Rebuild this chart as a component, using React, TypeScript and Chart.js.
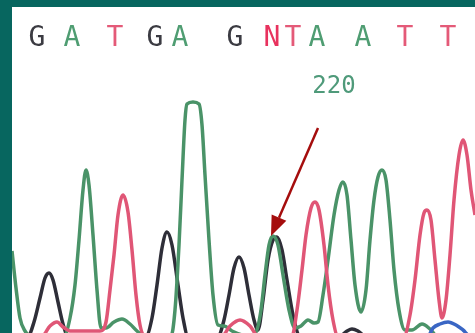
import React, { useEffect, useRef } from "react";
import { Chart, registerables } from "chart.js";

Chart.register(...registerables);

// Base calls along the top
const baseCalls = ["G", "A", "T", "G", "A", "G", "N", "T", "A", "A", "T", "T"];
const baseScans = [37, 72, 115, 155, 180, 235, 272, 293, 317, 363, 405, 448];

// Position label
const positionLabel = "220";
const positionScan = 334;

// Arrow (scan, signal) from label to the ambiguous peak
const arrowFrom = [318, 205];
const arrowTo = [271, 97];

// Trace A (green)
const aScan = [12, 16, 20, 25, 32, 64, 70, 75, 79, 83, 86, 89, 93, 97, 101, 106, 114, 122, 130, 137, 144, 171, 175, 179, 182, 185, 187, 193, 199, 202, 205, 209, 213, 218, 224, 232, 248, 256, 261, 265, 269, 273, 278, 283, 289, 295, 301, 308, 314, 318, 323, 328, 334, 339, 343, 347, 351, 355, 361, 366, 370, 374, 378, 382, 386, 390, 394, 399, 405, 412, 422, 430, 437, 475];
const aSignal = [82, 45, 15, 2, -3, -3, 15, 48, 93, 143, 163, 148, 98, 43, 5, 5, 11, 14, 9, 2, -3, -3, 23, 88, 153, 213, 229, 231, 229, 208, 158, 93, 38, 8, 7, 2, -3, 1, 23, 58, 88, 97, 88, 58, 23, 5, 7, 13, 10, 11, 38, 73, 118, 143, 151, 138, 93, 48, 21, 43, 93, 133, 156, 163, 153, 113, 63, 23, 3, 3, 9, 4, -3, -3];

// Trace G (black)
const gScan = [12, 20, 28, 34, 40, 45, 49, 53, 58, 63, 68, 146, 152, 157, 162, 167, 172, 178, 183, 188, 218, 224, 229, 234, 239, 244, 249, 254, 258, 263, 268, 273, 277, 282, 287, 293, 300, 340, 347, 352, 358, 365, 475];
const gSignal = [-3, -3, -3, 11, 35, 55, 60, 53, 31, 9, -3, -3, 15, 48, 85, 101, 88, 48, 15, -3, -3, 13, 38, 65, 76, 65, 38, 13, 3, 33, 73, 93, 96, 83, 53, 18, -3, -3, 2, 4, 2, -3, -3];

// Trace T (red)
const tScan = [12, 42, 50, 57, 63, 70, 100, 106, 110, 114, 118, 123, 128, 132, 136, 140, 145, 222, 230, 240, 250, 258, 292, 297, 302, 306, 311, 315, 319, 324, 328, 333, 338, 404, 410, 415, 420, 424, 427, 431, 435, 439, 442, 446, 450, 454, 459, 463, 467, 471, 475];
const tSignal = [-3, -3, 7, 11, 6, 2, 2, 11, 43, 78, 118, 138, 121, 83, 38, 8, -3, -3, 7, 13, 7, -3, -3, 23, 63, 98, 125, 131, 123, 88, 48, 13, -3, -3, 18, 53, 98, 120, 123, 113, 73, 33, 15, 33, 78, 133, 178, 193, 178, 143, 118];

// Trace C (blue)
const cScan = [12, 428, 433, 440, 448, 456, 463, 470, 475];
const cSignal = [-3, -3, 5, 9, 11, 8, 3, -3, -3];

const pts = (xs: number[], ys: number[]) => xs.map((x, i) => ({ x, y: ys[i] }));

const letterColor: Record<string, string> = {
  G: "#3b3b42",
  A: "#4f9d72",
  T: "#e45a78",
  C: "#3a66c4",
  N: "#e8325e",
};

export default function App() {
  const ref = useRef<HTMLCanvasElement | null>(null);

  useEffect(() => {
    if (!ref.current) return;
    const overlay = {
      id: "overlay",
      afterDatasetsDraw(chart: any) {
        const ctx = chart.ctx as CanvasRenderingContext2D;
        const xs = chart.scales.x;
        const ys = chart.scales.y;
        ctx.save();
        ctx.textAlign = "center";
        ctx.textBaseline = "middle";
        baseCalls.forEach((b, i) => {
          ctx.font = b === "N" ? "500 28px 'DejaVu Sans Mono'" : "28px 'DejaVu Sans Mono'";
          ctx.fillStyle = letterColor[b];
          ctx.fillText(b, xs.getPixelForValue(baseScans[i]), 32);
        });
        ctx.font = "24px 'DejaVu Sans Mono'";
        ctx.fillStyle = "#4f9a7a";
        ctx.fillText(positionLabel, xs.getPixelForValue(positionScan), 80);

        const x0 = xs.getPixelForValue(arrowFrom[0]);
        const y0 = ys.getPixelForValue(arrowFrom[1]);
        const x1 = xs.getPixelForValue(arrowTo[0]);
        const y1 = ys.getPixelForValue(arrowTo[1]);
        const ang = Math.atan2(y1 - y0, x1 - x0);
        const headLen = 20;
        const headW = 8;
        const bx = x1 - headLen * Math.cos(ang);
        const by = y1 - headLen * Math.sin(ang);
        ctx.strokeStyle = "#a50d0d";
        ctx.fillStyle = "#a50d0d";
        ctx.lineWidth = 2.5;
        ctx.beginPath();
        ctx.moveTo(x0, y0);
        ctx.lineTo(bx, by);
        ctx.stroke();
        ctx.beginPath();
        ctx.moveTo(x1, y1);
        ctx.lineTo(bx + headW * Math.sin(ang), by - headW * Math.cos(ang));
        ctx.lineTo(bx - headW * Math.sin(ang), by + headW * Math.cos(ang));
        ctx.closePath();
        ctx.fill();
        ctx.restore();
      },
    };

    const ds = (label: string, data: any[], color: string) => ({
      label,
      data,
      borderColor: color,
      borderWidth: 3.5,
      pointRadius: 0,
      fill: false,
      cubicInterpolationMode: "monotone" as const,
    });

    const chart = new Chart(ref.current, {
      type: "line",
      data: {
        datasets: [
          ds("C", pts(cScan, cSignal), "#3a66c4"),
          ds("T", pts(tScan, tSignal), "#e05676"),
          ds("A", pts(aScan, aSignal), "#4a9368"),
          ds("G", pts(gScan, gSignal), "#2e2e38"),
        ],
      },
      options: {
        animation: false,
        responsive: false,
        layout: { padding: 0 },
        scales: {
          x: { type: "linear", min: 12, max: 475, display: false },
          y: { min: 0, max: 326, display: false },
        },
        plugins: { legend: { display: false }, tooltip: { enabled: false } },
      },
      plugins: [overlay],
    });
    return () => chart.destroy();
  }, []);

  return (
    <div
      style={{
        position: "fixed",
        left: 0,
        top: 0,
        width: 475,
        height: 333,
        background: "#07665f",
        overflow: "hidden",
      }}
    >
      <canvas
        ref={ref}
        width={463}
        height={326}
        style={{ position: "absolute", left: 12, top: 7, width: 463, height: 326, background: "#ffffff" }}
      />
    </div>
  );
}
